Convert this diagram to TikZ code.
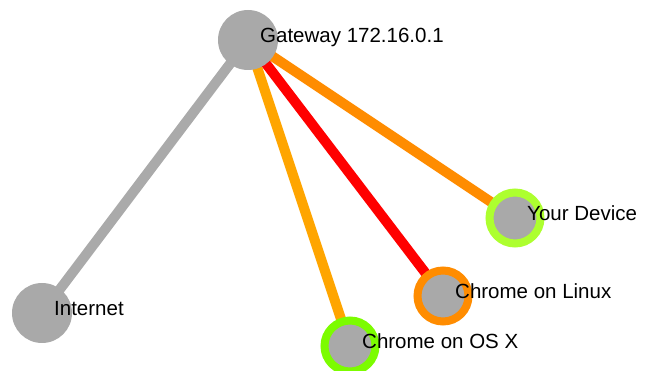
\documentclass[tikz,border=0pt]{standalone}
\usepackage{fontspec}
\setmainfont{Liberation Sans}
\usetikzlibrary{positioning}

\definecolor{nodegray}{HTML}{A9A9A9}
\definecolor{linkgray}{HTML}{AAAAAA}
\definecolor{darkorng}{HTML}{FF8C00}
\definecolor{lightorng}{HTML}{FFA500}
\definecolor{yelgreen}{HTML}{ADFF2F}
\definecolor{lawngrn}{HTML}{7CFC00}

\tikzset{
  hostnode/.style={circle,fill=nodegray,minimum size=60pt,inner sep=0pt},
  ringnode/.style={circle,fill=nodegray,draw=#1,line width=8pt,minimum size=51pt,inner sep=0pt},
  link/.style={line width=10pt,#1},
  hostlabel/.style={anchor=base west,inner sep=0pt,font=\fontsize{20.5}{24}\selectfont}
}

\begin{document}
\begin{tikzpicture}[x=1pt,y=-1pt]
\useasboundingbox (0,0) rectangle (649,371);

\coordinate (gw) at (248,40);
\coordinate (inet) at (42,313);
\coordinate (dev) at (515,218);
\coordinate (linux) at (443,296);
\coordinate (osx) at (350,346);

% links
\draw[link=linkgray] (gw) -- (inet);
\draw[link=lightorng] (gw) -- (osx);
\draw[link=red] (gw) -- (linux);
\draw[link=darkorng] (gw) -- (dev);

% hosts
\node[hostnode] (gwc) at (gw) {};
\node[hostnode] (inetc) at (inet) {};
\node[ringnode=yelgreen] (devc) at (dev) {};
\node[ringnode=darkorng] (linuxc) at (linux) {};
\node[ringnode=lawngrn] (osxc) at (osx) {};

% labels
\node[hostlabel] (gwt) at ([xshift=12pt,yshift=-3pt]gw) {Gateway 172.16.0.1};
\node[hostlabel] (inett) at ([xshift=12pt,yshift=-3pt]inet) {Internet};
\node[hostlabel] (devt) at ([xshift=12pt,yshift=-3pt]dev) {Your Device};
\node[hostlabel] (linuxt) at ([xshift=12pt,yshift=-3pt]linux) {Chrome on Linux};
\node[hostlabel] (osxt) at ([xshift=12pt,yshift=-3pt]osx) {Chrome on OS X};

\end{tikzpicture}
\end{document}
